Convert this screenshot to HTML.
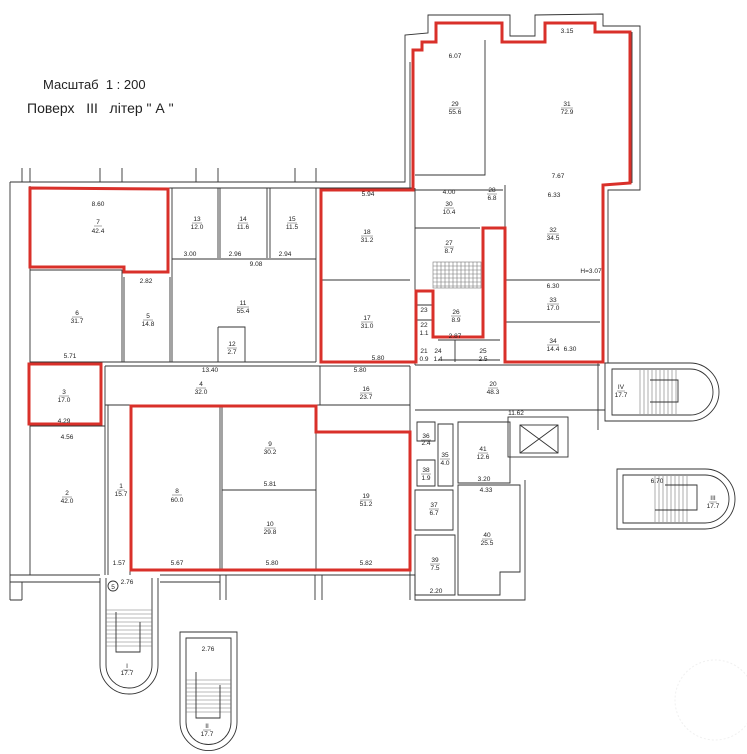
<!DOCTYPE html>
<html><head><meta charset="utf-8"><style>
html,body{margin:0;padding:0;background:#fff}
svg{display:block}
text{font-family:"Liberation Sans",sans-serif;fill:#222;white-space:pre}
.t{font-size:6.5px;text-anchor:middle}
.w{fill:none;stroke:#333;stroke-width:0.9}
.r{fill:none;stroke:#d9302a;stroke-width:3}
.g{fill:none;stroke:#777;stroke-width:0.6}
</style></head><body>
<svg width="747" height="754" viewBox="0 0 747 754" xmlns="http://www.w3.org/2000/svg">
<text x="43" y="89" style="font-size:13px">Масштаб  1 : 200</text>
<text x="27" y="113" style="font-size:14px" xml:space="preserve">Поверх   III   літер " А "</text>

<!-- outer walls -->
<path class="w" d="M10,182 L405,182 L405,60 L405,35 L428,33 L428,15 L510,15 L510,36 L535,36 L535,15 L603,14 L603,26 L640,26 L640,190 L608,190 L608,363"/>
<path class="w" d="M10,182 L10,600 M30,186 L30,575 M10,575 L100,575 M160,575 L415,575 L415,600 L525,600 L525,480 M10,582 L100,582 M160,582 L220,582 M10,600 L22,600 M22,582 L22,600"/>
<path class="w" d="M22,168 L22,182 M30,168 L30,182 M100,168 L100,182 M122,168 L122,182 M196,168 L196,182 M218,168 L218,182 M295,168 L295,182 M316,168 L316,182"/>
<path class="w" d="M30,188 L413,188 M410,188 L410,62 M632,32 L632,183"/>
<path class="w" d="M220,575 L220,600 M226,575 L226,600 M315,575 L315,600 M322,575 L322,600 M410,575 L410,600"/>

<!-- interior rooms -->
<path class="w" d="M172,188 L172,362 M218,188 L218,258 M220,188 L220,258 M267,188 L267,258 M270,188 L270,258 M316,188 L316,362 M172,259 L316,259"/>
<path class="w" d="M30,270 L122,270 L122,362 M124,277 L124,362 M170,277 L170,362 M30,362 L316,362 M218,327 L245,327 L245,362 M218,327 L218,362"/>
<path class="w" d="M321,280 L410,280"/>
<path class="w" d="M105,366 L410,366 M105,366 L105,575 M30,426 L105,426 M108,405 L108,575 M130,405 L130,575 M105,405 L410,405"/>
<path class="w" d="M220,405 L220,570 M222,405 L222,570 M222,490 L316,490 M316,405 L316,570 M316,432 L410,432 M410,366 L410,575 M320,366 L320,405"/>
<path class="w" d="M415,190 L503,190 M415,228 L480,228 M415,188 L415,365 M415,365 L600,365 M438,340 L500,340 M438,360 L500,360 M455,340 L455,362 M433,305 L415,305 M415,320 L433,320"/>
<path class="w" d="M485,40 L485,175 L415,175 M505,185 L505,362 M505,280 L600,280 M505,322 L600,322"/>
<g class="g">
<rect x="433" y="262" width="48" height="26"/>
<path d="M437,262V288M441,262V288M445,262V288M449,262V288M453,262V288M457,262V288M461,262V288M465,262V288M469,262V288M473,262V288M477,262V288M433,266H481M433,270H481M433,274H481M433,278H481M433,282H481M433,286H481"/>
</g>

<!-- lower right block -->
<path class="w" d="M415,410 L600,410 M417,422 L435,422 L435,441 L417,441 Z M438,424 L453,424 L453,486 L438,486 Z M417,460 L435,460 L435,486 L417,486 Z M415,490 L453,490 L453,530 L415,530 Z M415,535 L455,535 L455,595 L415,595 Z M458,422 L510,422 L510,483 L458,483 Z M458,485 L520,485 L520,572 L500,572 L500,595 L458,595 Z"/>
<rect class="w" x="508" y="417" width="60" height="40"/>
<rect class="w" x="520" y="425" width="38" height="28"/>
<path class="w" d="M520,425 L558,453 M558,425 L520,453"/>
<path class="w" d="M598,363 L598,430 M598,410 L605,410"/>

<!-- stair IV -->
<path class="w" d="M605,363 L690,363 A29,29 0 0 1 690,421 L605,421 Z"/>
<path class="w" d="M612,369 L690,369 A23,23 0 0 1 690,415 L612,415 Z"/>
<g class="g"><path d="M640,370V414M644,370V414M648,370V414M652,370V414M656,370V414M660,370V414M664,370V414M668,370V414M672,370V414M676,370V414"/></g>
<path class="w" d="M650,380 L678,380 L678,402 L650,402"/>
<!-- stair III -->
<path class="w" d="M617,469 L705,469 A30,30 0 0 1 705,529 L617,529 Z"/>
<path class="w" d="M623,475 L705,475 A24,24 0 0 1 705,523 L623,523 Z"/>
<g class="g"><path d="M655,476V522M659,476V522M663,476V522M667,476V522M671,476V522M675,476V522M679,476V522M683,476V522M687,476V522"/></g>
<path class="w" d="M665,485 L697,485 L697,510 L655,510"/>
<!-- stair I -->
<path class="w" d="M100,578 L100,665 A29,29 0 0 0 158,665 L158,578"/>
<path class="w" d="M106,578 L106,665 A23,23 0 0 0 152,665 L152,578"/>
<g class="g"><path d="M106,610H152M106,614H152M106,618H152M106,622H152M106,626H152M106,630H152M106,634H152M106,638H152M106,642H152M106,646H152"/></g>
<path class="w" d="M116,612 L116,652 L140,652 L140,622"/>
<circle cx="113" cy="586" r="5" class="w"/><text x="113" y="589" class="t">5</text>
<!-- stair II -->
<path class="w" d="M180,632 L237,632 L237,722 A28.5,28.5 0 0 1 180,722 Z"/>
<path class="w" d="M186,638 L231,638 L231,722 A22.5,22.5 0 0 1 186,722 Z"/>
<g class="g"><path d="M186,680H231M186,684H231M186,688H231M186,692H231M186,696H231M186,700H231M186,704H231M186,708H231M186,712H231"/></g>
<path class="w" d="M196,672 L196,718 L220,718 L220,685"/>

<!-- red outlines -->
<path class="r" d="M30,188 L168,189 L168,272 L124,272 L124,267 L30,267 Z"/>
<rect class="r" x="29" y="364" width="72" height="60"/>
<path class="r" d="M131,406 L316,406 L316,432 L410,432 L410,570 L134,570 L131,570 Z"/>
<path class="r" d="M321,362 L321,190 L413,190 L413,50 L422,50 L422,42 L436,42 L436,23 L502,23 L502,42 L545,42 L545,23 L595,23 L595,32 L630,32 L630,183 L603,185 L603,362 L505,362 L505,228 L483,228 L483,337 L433,337 L433,291 L416,291 L416,362 Z"/>

<!-- labels -->
<g class="t">
<text x="98" y="224">7</text><text x="98" y="233">42.4</text><text x="98" y="206">8.60</text>
<text x="197" y="221">13</text><text x="197" y="229">12.0</text>
<text x="243" y="221">14</text><text x="243" y="229">11.6</text>
<text x="292" y="221">15</text><text x="292" y="229">11.5</text>
<text x="190" y="256">3.00</text><text x="235" y="256">2.96</text><text x="285" y="256">2.94</text><text x="256" y="266">9.08</text>
<text x="77" y="315">6</text><text x="77" y="323">31.7</text><text x="70" y="358">5.71</text>
<text x="148" y="318">5</text><text x="148" y="326">14.8</text><text x="146" y="283">2.82</text>
<text x="243" y="305">11</text><text x="243" y="313">55.4</text>
<text x="232" y="346">12</text><text x="232" y="354">2.7</text>
<text x="367" y="234">18</text><text x="367" y="242">31.2</text><text x="368" y="196">5.94</text>
<text x="367" y="320">17</text><text x="367" y="328">31.0</text><text x="378" y="360">5.80</text>
<text x="210" y="372">13.40</text><text x="360" y="372">5.80</text>
<text x="201" y="386">4</text><text x="201" y="394">32.0</text>
<text x="366" y="391">16</text><text x="366" y="399">23.7</text>
<text x="64" y="394">3</text><text x="64" y="402">17.0</text><text x="64" y="423">4.29</text>
<text x="67" y="439">4.56</text>
<text x="67" y="495">2</text><text x="67" y="503">42.0</text>
<text x="121" y="488">1</text><text x="121" y="496">15.7</text><text x="119" y="565">1.57</text><text x="127" y="584">2.76</text>
<text x="177" y="493">8</text><text x="177" y="502">60.0</text><text x="177" y="565">5.67</text>
<text x="270" y="446">9</text><text x="270" y="454">30.2</text><text x="270" y="486">5.81</text>
<text x="270" y="526">10</text><text x="270" y="534">29.8</text><text x="272" y="565">5.80</text>
<text x="366" y="498">19</text><text x="366" y="506">51.2</text><text x="366" y="565">5.82</text>
<text x="455" y="58">6.07</text><text x="455" y="106">29</text><text x="455" y="114">55.6</text>
<text x="567" y="33">3.15</text><text x="567" y="106">31</text><text x="567" y="114">72.9</text><text x="558" y="178">7.67</text>
<text x="449" y="194">4.00</text><text x="449" y="206">30</text><text x="449" y="214">10.4</text>
<text x="492" y="192">28</text><text x="492" y="200">6.8</text>
<text x="449" y="245">27</text><text x="449" y="253">8.7</text>
<text x="456" y="314">26</text><text x="456" y="322">8.9</text><text x="455" y="338">2.87</text>
<text x="424" y="312">23</text><text x="424" y="327">22</text><text x="424" y="335">1.1</text>
<text x="424" y="353">21</text><text x="424" y="361">0.9</text>
<text x="438" y="353">24</text><text x="438" y="361">1.4</text>
<text x="483" y="353">25</text><text x="483" y="361">2.5</text>
<text x="554" y="197">6.33</text><text x="553" y="232">32</text><text x="553" y="240">34.5</text><text x="591" y="273">H=3.07</text>
<text x="553" y="288">6.30</text><text x="553" y="302">33</text><text x="553" y="310">17.0</text>
<text x="553" y="343">34</text><text x="553" y="351">14.4</text><text x="570" y="351">6.30</text>
<text x="493" y="386">20</text><text x="493" y="394">48.3</text><text x="516" y="415">11.62</text>
<text x="621" y="389">IV</text><text x="621" y="397">17.7</text>
<text x="426" y="438">36</text><text x="426" y="445">2.4</text>
<text x="445" y="457">35</text><text x="445" y="465">4.0</text>
<text x="426" y="472">38</text><text x="426" y="480">1.9</text>
<text x="434" y="507">37</text><text x="434" y="515">6.7</text>
<text x="435" y="562">39</text><text x="435" y="570">7.5</text><text x="436" y="593">2.20</text>
<text x="483" y="451">41</text><text x="483" y="459">12.6</text><text x="484" y="481">3.20</text>
<text x="486" y="492">4.33</text><text x="487" y="537">40</text><text x="487" y="545">25.5</text>
<text x="657" y="483">6.70</text><text x="713" y="500">III</text><text x="713" y="508">17.7</text>
<text x="127" y="668">I</text><text x="127" y="675">17.7</text>
<text x="208" y="651">2.76</text><text x="207" y="728">II</text><text x="207" y="736">17.7</text>
</g>
<g stroke="#555" stroke-width="0.5">
<path d="M94,226H102M192,223H202M238,223H248M287,223H297M72,317H82M143,320H153M237,307H249M227,348H237M361,236H373M361,322H373M196,388H206M360,393H372M59,396H69M62,497H72M117,490H125M172,495H182M265,448H275M264,528H276M360,500H372M449,108H461M561,108H573M444,208H454M487,194H497M444,247H454M451,316H461M547,234H559M547,304H559M547,345H559M488,388H498M421,440H431M440,459H450M421,474H431M429,509H439M430,564H440M478,453H488M482,539H492M617,391H625M709,502H717M123,670H131M203,730H211"/>
</g>
<circle cx="715" cy="700" r="40" fill="none" stroke="#f0f0f0" stroke-width="1" stroke-dasharray="2 2"/>
</svg>
</body></html>
